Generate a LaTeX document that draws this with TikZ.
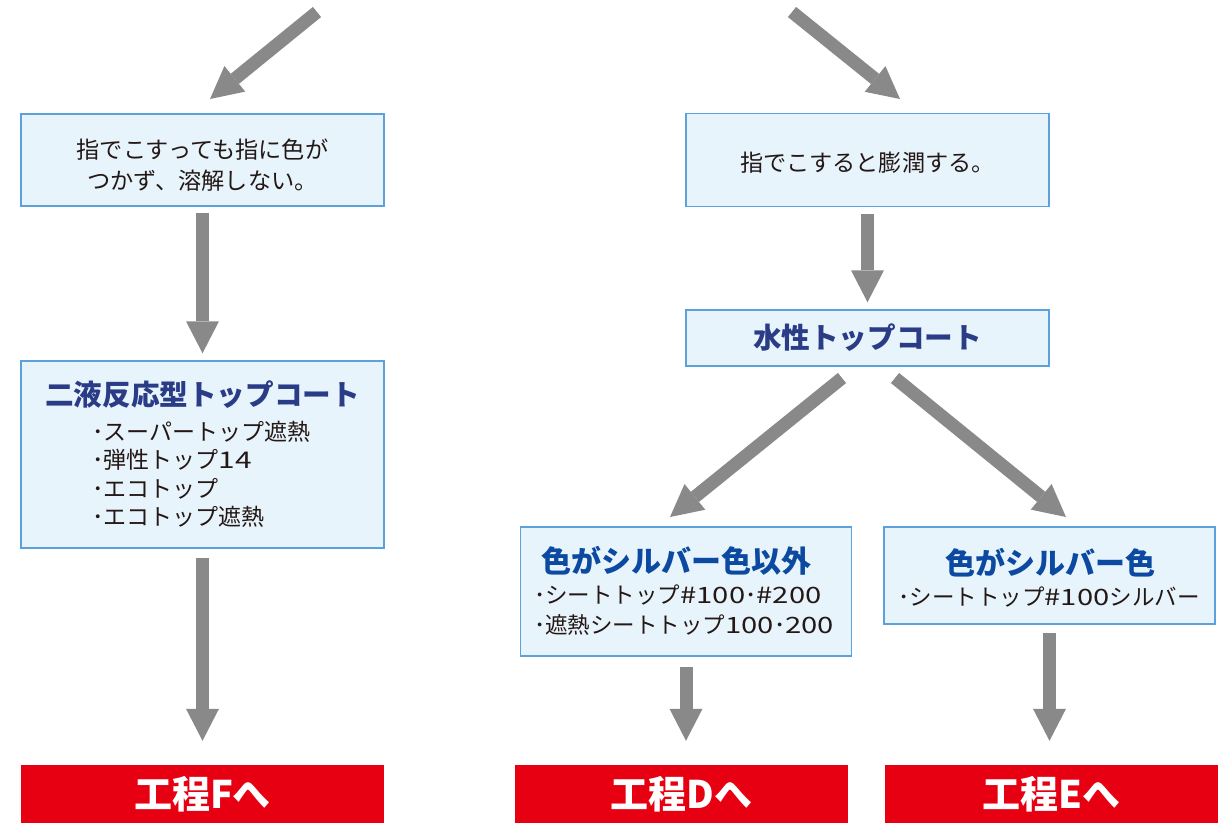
\documentclass[tikz,border=0pt]{standalone}
\usepackage{fontspec}
\setmainfont{Noto Sans CJK JP}
\newfontfamily\widedig{Noto Sans CJK JP}[FakeStretch=1.3]
\newcommand{\wdg}[1]{{\widedig #1}}
\usetikzlibrary{arrows.meta}
\definecolor{boxfill}{HTML}{E8F4FC}
\definecolor{boxline}{HTML}{5DA1DC}
\definecolor{arrowgray}{HTML}{898989}
\definecolor{ink}{HTML}{231815}
\definecolor{navy}{HTML}{2B3C87}
\definecolor{blue2}{HTML}{0B4AA0}
\definecolor{goalred}{HTML}{E60012}
\tikzset{
  box/.style={draw=boxline, fill=boxfill, line width=1.5pt, inner sep=0pt},
  goal/.style={fill=goalred, inner sep=0pt, minimum height=58pt, text=white,
    font=\bfseries\fontsize{38}{38}\selectfont},
  arr/.style={draw=arrowgray, line width=13pt,
    -{Triangle[length=32pt,width=33pt,line width=0pt]}},
  body/.style={text=ink, font=\fontsize{23.2}{31}\selectfont, inner sep=0pt},
  items/.style={text=ink, font=\fontsize{23}{28.5}\selectfont, inner sep=0pt, align=left, anchor=west},
  ttl/.style={font=\bfseries\fontsize{28.6}{30}\selectfont, inner sep=0pt},
}
\begin{document}
\begin{tikzpicture}[x=1pt,y=-1pt]
\useasboundingbox (0,0) rectangle (1224,823);
% boxes
\node[box, minimum width=363pt, minimum height=92pt] (A) at (202.5,160) {};
\node[box, minimum width=363pt, minimum height=187pt] (B) at (202.5,454.5) {};
\node[box, minimum width=363pt, minimum height=93pt] (C) at (867.5,160) {};
\node[box, minimum width=363pt, minimum height=56pt] (D) at (867.5,338) {};
\node[box, minimum width=331pt, minimum height=129pt] (E) at (686,591.5) {};
\node[box, minimum width=331pt, minimum height=97pt] (F) at (1049.5,575.5) {};
% goal boxes
\node[goal, minimum width=363pt] (RF) at (202.5,794) {工程Fへ};
\node[goal, minimum width=333pt] (RD) at (681.5,794) {工程Dへ};
\node[goal, minimum width=333pt] (RE) at (1051.5,794) {工程Eへ};
% texts
\node[body, align=center] (tA) at (202.5,165.5) {指でこすっても指に色が\\つかず、溶解しない。};
\node[body] (tC) at (867.5,163) {指でこすると膨潤する。};
\node[ttl, text=navy] (tB) at (202.5,395) {二液反応型トップコート};
\node[items] (iB) at (92,474.5) {･スーパートップ遮熱\\･弾性トップ\wdg{14}\\･エコトップ\\･エコトップ遮熱};
\node[ttl, text=navy] (tD) at (867.5,338) {水性トップコート};
\node[ttl, text=blue2, font=\bfseries\fontsize{30}{30}\selectfont] (tE) at (676,561) {色がシルバー色以外};
\node[items, font=\fontsize{22.5}{30}\selectfont] (iE) at (534,610) {･シートトップ\wdg{\#100}･\wdg{\#200}\\･遮熱シートトップ\wdg{100}･\wdg{200}};
\node[ttl, text=blue2, font=\bfseries\fontsize{30}{30}\selectfont] (tF) at (1050,563) {色がシルバー色};
\node[body, font=\fontsize{22.5}{30}\selectfont] (iF) at (1049,597) {･シートトップ\wdg{\#100}シルバー};
% free ends of the entry arrows
\coordinate (s1) at (317,12);
\coordinate (e1) at (210,99);
\coordinate (s2) at (792,12);
\coordinate (e2) at (900,99);
\coordinate (s3) at (842,378);
\coordinate (e3) at (670,517);
\coordinate (s4) at (895,378);
\coordinate (e4) at (1066,517);
% arrows
\draw[arr] (s1) -- (e1);
\draw[arr] (s2) -- (e2);
\draw[arr, shorten <=6pt, shorten >=7pt] (A.south) -- (B.north);
\draw[arr, shorten <=7pt, shorten >=7pt] (C.south) -- (D.north);
\draw[arr] (s3) -- (e3);
\draw[arr] (s4) -- (e4);
\draw[arr, shorten <=9pt, shorten >=24pt] (B.south) -- (RF.north -| B.south);
\draw[arr, shorten <=10pt, shorten >=24pt] (E.south) -- (E.south |- RD.north);
\draw[arr, shorten <=8pt, shorten >=24pt] (F.south) -- (F.south |- RE.north);
\end{tikzpicture}
\end{document}
